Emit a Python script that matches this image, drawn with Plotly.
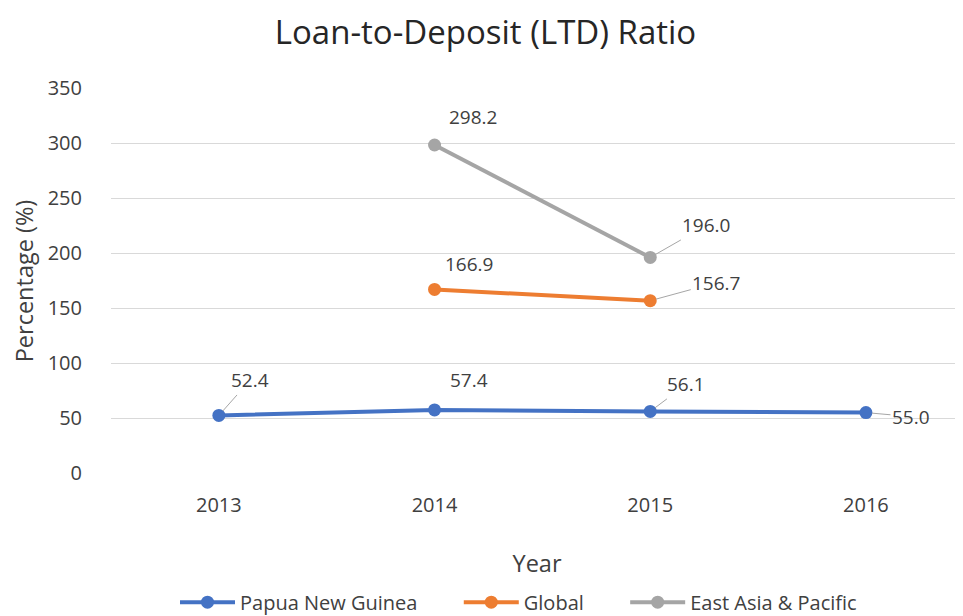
import plotly.graph_objects as go

years = ["2013", "2014", "2015", "2016"]
png = [52.4, 57.4, 56.1, 55.0]
glob = [None, 166.9, 156.7, None]
eap = [None, 298.2, 196.0, None]

series = [
    ("Papua New Guinea", png, "#4472C4"),
    ("Global", glob, "#ED7D31"),
    ("East Asia & Pacific", eap, "#A5A5A5"),
]

# label offsets (dx, dy pixels; dy positive = down) and whether a leader line is drawn
label_offsets = {
    "Papua New Guinea": [(31, -35, True), (34, -30, False), (36, -27, True), (45, 4, True)],
    "Global": [None, (34, -25, False), (66, -18, True), None],
    "East Asia & Pacific": [None, (38, -28, False), (56, -32, True), None],
}

FONT = "Open Sans, sans-serif"
fig = go.Figure()
annotations = []
for name, vals, col in series:
    fig.add_trace(go.Scatter(
        x=years, y=vals, name=name + "\u00a0" * 7, mode="lines+markers",
        line=dict(color=col, width=4),
        marker=dict(color=col, size=13),
        connectgaps=False,
    ))
    for i, v in enumerate(vals):
        off = label_offsets[name][i]
        if v is None or off is None:
            continue
        dx, dy, leader = off
        annotations.append(dict(
            x=i, y=v, xref="x", yref="y",
            text=f"{v:.1f}", showarrow=True,
            ax=dx, ay=dy, axref="pixel", ayref="pixel",
            arrowhead=0, arrowwidth=1,
            arrowcolor="#A6A6A6" if leader else "rgba(0,0,0,0)",
            standoff=6, startstandoff=0,
            font=dict(size=19, color="#404040", family=FONT),
        ))

# page body has an 8px margin, so the figure is 8px smaller and shifted
fig.update_layout(
    width=955, height=608,
    paper_bgcolor="white", plot_bgcolor="white",
    margin=dict(l=103, r=0, t=80, b=142, autoexpand=False),
    title=dict(text="Loan-to-Deposit (LTD) Ratio", x=0.5, xanchor="center",
               y=0.959, yanchor="middle",
               font=dict(size=33, color="#262626", family=FONT)),
    font=dict(family=FONT, color="#404040"),
    xaxis=dict(
        type="category", range=[-0.5, 3.45], showgrid=False, zeroline=False,
        showline=False, ticks="outside", ticklen=13, tickcolor="rgba(0,0,0,0)",
        tickfont=dict(size=20, color="#404040"), automargin=False,
        title=dict(text="Year", font=dict(size=23.5, color="#404040"), standoff=38),
    ),
    yaxis=dict(
        range=[-0.8, 350], tickvals=[0, 50, 100, 150, 200, 250, 300, 350],
        showgrid=True, gridcolor="#D9D9D9", gridwidth=1,
        zeroline=False, showline=False, ticks="outside", ticklen=24,
        tickcolor="rgba(0,0,0,0)", automargin=False,
        tickfont=dict(size=20, color="#404040"),
        title=dict(text="Percentage (%)", font=dict(size=23.5, color="#404040"), standoff=9),
    ),
    legend=dict(orientation="h", x=0.5, xanchor="center", y=-0.332, yanchor="middle",
                font=dict(size=20, color="#404040"), itemwidth=55),
    annotations=annotations,
    showlegend=True,
)

fig.write_html("out.html")
